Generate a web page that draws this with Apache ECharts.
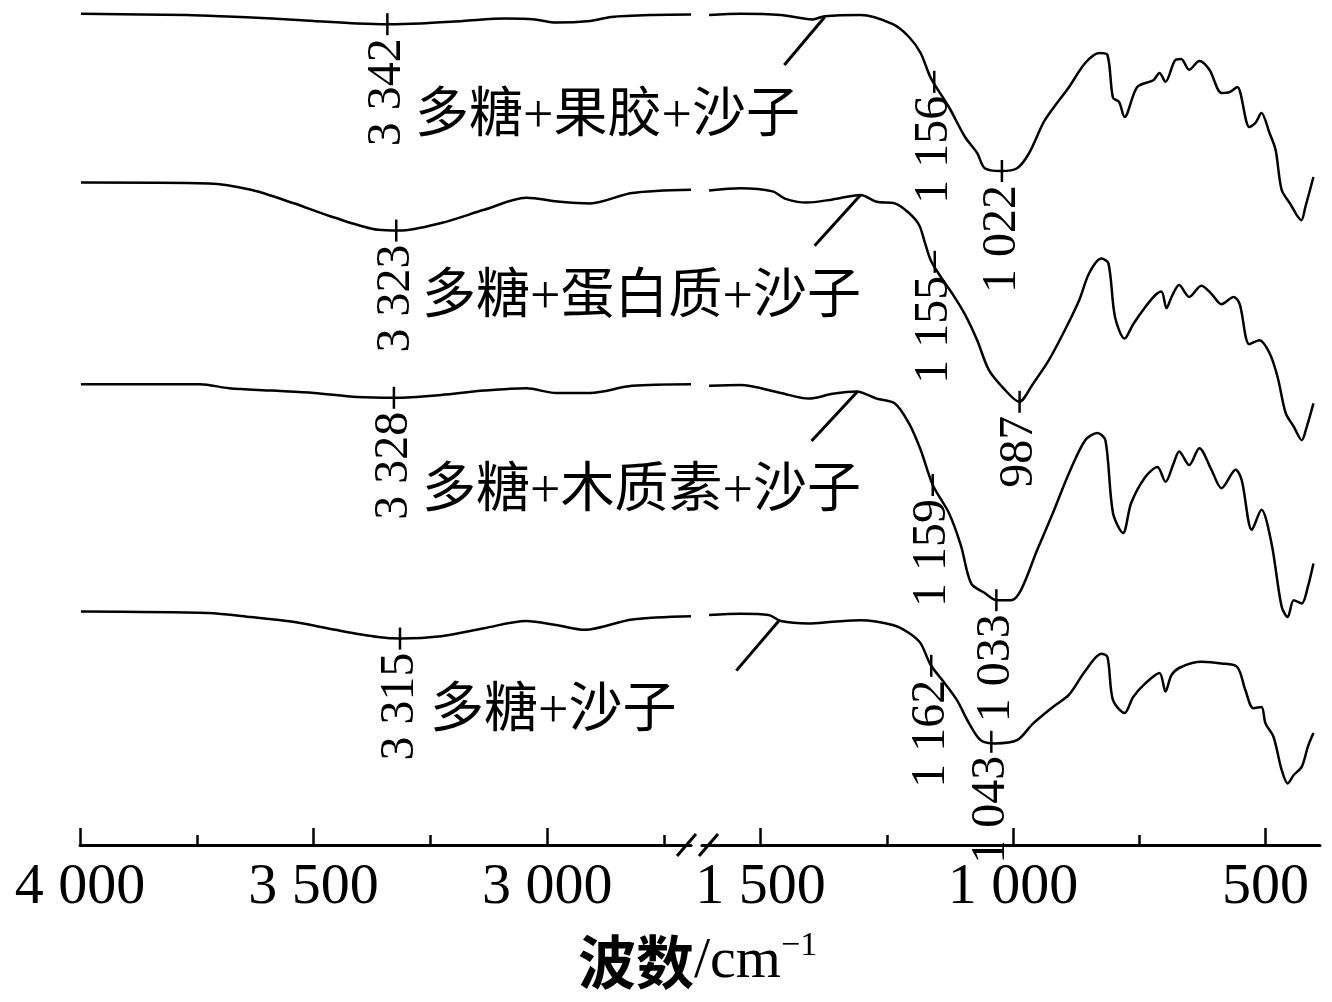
<!DOCTYPE html>
<html><head><meta charset="utf-8">
<script src="https://cdn.jsdelivr.net/npm/echarts@6/dist/echarts.min.js"></script>
<style>html,body{margin:0;padding:0;background:#fff}#c{width:1332px;height:1002px}</style>
</head><body><div id="c"></div>
<script>
// Sample names (top to bottom)
const sampleNames = ['多糖+果胶+沙子', '多糖+蛋白质+沙子', '多糖+木质素+沙子', '多糖+沙子'];

// Spectra, high-wavenumber segment [wavenumber, transmittance (a.u., offset)]
const pectinHigh = [[3998,103.9],[3771,103.75],[3698,103.6],[3589,103.3],[3499,103.0],[3407,102.7],[3340,102.6],[3272,102.7],[3180,103.0],[3090,103.3],[3026,103.2],[2981,102.8],[2908,103.0],[2863,103.5],[2773,103.75],[2692,103.8]];
const proteinHigh = [[3998,82.8],[3724,82.7],[3634,81.9],[3544,80.25],[3454,78.4],[3362,76.9],[3317,76.8],[3227,77.75],[3135,79.4],[3045,80.9],[2972,80.4],[2908,80.2],[2818,81.5],[2692,81.9]];
const ligninHigh = [[3998,57.6],[3743,57.6],[3681,57.1],[3589,56.8],[3499,56.5],[3407,56.0],[3325,55.9],[3227,56.25],[3135,56.8],[3045,57.1],[2981,56.5],[2908,56.5],[2818,57.4],[2692,57.6]];
const sandHigh = [[3998,29.2],[3726,29.0],[3634,28.5],[3544,27.9],[3454,26.9],[3362,26.0],[3313,25.8],[3227,26.1],[3135,27.1],[3045,28.0],[2981,27.5],[2919,26.9],[2818,28.2],[2692,28.6]];

// Spectra, low-wavenumber segment
const pectinLow = [[1602,103.75],[1540,103.9],[1460,103.75],[1397,103.2],[1373,103.6],[1302,103.75],[1238,102.6],[1206,101.0],[1183,99.0],[1163,95.9],[1127,92.25],[1095,88.5],[1071,86.5],[1056,84.6],[1024,84.25],[992,84.6],[968,86.5],[937,90.6],[889,94.75],[857,97.75],[829,99.0],[813,98.75],[802,93.4],[790,92.9],[779,91.0],[754,94.75],[722,95.6],[710,96.5],[698,95.4],[679,98.1],[667,98.25],[651,96.9],[631,98.0],[611,96.9],[587,94.0],[571,94.1],[556,94.75],[532,89.75],[520,90.25],[508,91.5],[492,89.0],[480,86.9],[468,81.9],[452,80.25],[429,78.1],[421,79.75],[405,83.5]];
const proteinLow = [[1602,81.8],[1540,82.1],[1476,81.7],[1452,80.8],[1409,80.3],[1357,80.7],[1302,81.25],[1270,80.4],[1234,80.2],[1206,79.0],[1186,77.5],[1175,75.4],[1163,73.1],[1143,71.0],[1119,68.8],[1095,66.3],[1071,63.1],[1048,59.4],[1016,56.9],[988,55.4],[960,57.7],[929,60.6],[897,64.4],[869,68.1],[849,71.5],[825,73.3],[811,72.7],[798,66.0],[779,63.3],[762,65.1],[738,67.25],[718,68.75],[706,69.2],[696,67.1],[686,68.5],[671,70.0],[651,68.5],[627,69.9],[607,68.9],[587,67.6],[563,68.5],[551,67.6],[532,62.6],[512,63.1],[492,61.5],[476,58.5],[460,54.0],[444,52.3],[428,50.6],[420,51.9],[405,55.2]];
const ligninLow = [[1602,57.4],[1540,57.5],[1460,56.5],[1405,55.8],[1357,56.4],[1310,56.7],[1270,55.8],[1234,55.2],[1206,52.7],[1183,49.4],[1159,45.0],[1127,41.5],[1103,37.4],[1083,32.7],[1056,31.5],[1032,30.6],[1004,30.6],[984,31.9],[952,36.9],[921,41.5],[889,46.5],[857,50.6],[833,51.5],[817,50.6],[802,41.5],[782,39.0],[766,42.75],[738,46.0],[714,47.25],[698,45.4],[682,47.7],[671,49.2],[651,47.5],[631,49.6],[607,46.9],[587,44.6],[559,46.9],[547,45.6],[527,39.4],[508,41.9],[488,37.7],[468,29.8],[456,28.5],[444,30.6],[428,30.2],[416,32.3],[405,35.2]];
const sandLow = [[1602,28.75],[1540,28.9],[1484,28.75],[1460,28.0],[1405,27.7],[1357,27.9],[1302,28.1],[1238,27.5],[1206,26.5],[1183,25.2],[1163,22.5],[1135,20.2],[1111,18.1],[1087,15.2],[1064,13.1],[1036,12.7],[992,13.1],[960,15.2],[921,17.25],[889,18.8],[857,21.75],[825,23.9],[813,23.5],[802,18.1],[779,16.5],[762,18.5],[738,20.2],[710,21.5],[698,19.2],[686,21.25],[667,22.25],[627,22.9],[587,22.7],[556,22.25],[540,19.4],[524,17.1],[508,17.25],[500,15.2],[484,13.5],[468,9.4],[456,7.7],[444,8.75],[428,9.8],[416,12.3],[405,14.0]];

// Labelled band positions [wavenumber, transmittance]
const peaksPectin = [[3342,102.6],[1156,95.4],[1022,84.25]];
const peaksProtein = [[3323,76.8],[1155,72.9],[987,55.4]];
const peaksLignin = [[3328,55.9],[1159,45.0],[1033,30.6]];
const peaksSand = [[3315,25.8],[1162,22.4],[1043,12.9]];

// Slanted baseline marks [[wn1,T1],[wn2,T2]]
const slashPectin = [[1453,97.5],[1373,103.5]];
const slashProtein = [[1393,74.9],[1302,81.25]];
const slashLignin = [[1399,50.5],[1308,56.7]];
const slashSand = [[1548,21.8],[1464,28.0]];

// Axis ticks
const majorTicksHigh = [4000, 3500, 3000];
const minorTicksHigh = [3750, 3250, 2750];
const majorTicksLow = [1500, 1000, 500];
const minorTicksLow = [1250, 750];

const highSeries = [pectinHigh, proteinHigh, ligninHigh, sandHigh];
const lowSeries = [pectinLow, proteinLow, ligninLow, sandLow];
const peakSets = [peaksPectin, peaksProtein, peaksLignin, peaksSand];
const slashSets = [slashPectin, slashProtein, slashLignin, slashSand];

function fmt(v) {
  v = Math.round(v);
  if (v >= 1000) return Math.floor(v / 1000) + ' ' + String(v % 1000).padStart(3, '0');
  return String(v);
}

const SERIF = "'Liberation Serif','Times New Roman',serif";
const CJK = "'Liberation Serif','Noto Sans CJK SC',sans-serif";

function majorAxis(grid, min, max, ticks) {
  return {
    type: 'value', gridIndex: grid, min: min, max: max, inverse: true, position: 'bottom',
    axisLine: { show: true, lineStyle: { color: '#000', width: 3 } },
    axisTick: { show: true, inside: true, length: 17, customValues: ticks, lineStyle: { color: '#000', width: 2.5 } },
    axisLabel: { show: true, customValues: ticks, formatter: fmt, color: '#000', fontSize: 58, fontFamily: SERIF, margin: 14 },
    splitLine: { show: false }
  };
}
function minorAxis(grid, min, max, ticks) {
  return {
    type: 'value', gridIndex: grid, min: min, max: max, inverse: true, position: 'bottom', offset: 0,
    axisLine: { show: false },
    axisTick: { show: true, inside: true, length: 10, customValues: ticks, lineStyle: { color: '#000', width: 2.5 } },
    axisLabel: { show: false },
    splitLine: { show: false }
  };
}

const series = [];
const lineStyle = { color: '#000', width: 2.5 };
highSeries.forEach(function (d, i) {
  series.push({ type: 'line', xAxisIndex: 0, yAxisIndex: 0, data: d, showSymbol: false, smooth: 0.3, lineStyle: lineStyle, silent: true, name: sampleNames[i] });
});
lowSeries.forEach(function (d, i) {
  series.push({ type: 'line', xAxisIndex: 2, yAxisIndex: 1, data: d, showSymbol: false, smooth: 0.3, lineStyle: lineStyle, silent: true, name: sampleNames[i] });
});
slashSets.forEach(function (d) {
  series.push({ type: 'line', xAxisIndex: 2, yAxisIndex: 1, data: d, showSymbol: false, lineStyle: { color: '#000', width: 3 }, silent: true });
});
function peakSeries(pts, xi, yi) {
  return {
    type: 'scatter', xAxisIndex: xi, yAxisIndex: yi, data: pts, symbol: 'rect', symbolSize: [2.5, 22],
    itemStyle: { color: '#000', opacity: 1 }, silent: true, z: 5,
    label: {
      show: true, formatter: function (p) { return fmt(p.data[0]); },
      position: [1.25, 25], rotate: 90, align: 'right', verticalAlign: 'middle',
      fontSize: 48, fontFamily: SERIF, color: '#000', opacity: 1
    }
  };
}
const allPeaks = [].concat.apply([], peakSets);
series.push(peakSeries(allPeaks.filter(function (p) { return p[0] > 2000; }), 0, 0));
series.push(peakSeries(allPeaks.filter(function (p) { return p[0] < 2000; }), 2, 1));

const nameY = [118, 299, 493, 713];
const nameX = [415, 422, 422, 430];
const graphics = sampleNames.map(function (n, i) {
  return { type: 'text', x: nameX[i], y: nameY[i], style: { text: n, fontSize: 54, fontFamily: CJK, fill: '#000', align: 'left', verticalAlign: 'middle' } };
});
graphics.push({ type: 'line', shape: { x1: 677, y1: 856, x2: 696, y2: 834 }, style: { stroke: '#000', lineWidth: 3 } });
graphics.push({ type: 'line', shape: { x1: 699, y1: 856, x2: 718, y2: 834 }, style: { stroke: '#000', lineWidth: 3 } });
graphics.push({
  type: 'text', x: 578, y: 962,
  style: {
    text: '{a|波数}{b|/cm}{c|−1}', align: 'left', verticalAlign: 'middle', fill: '#000',
    rich: {
      a: { fontSize: 58, fontFamily: "'Noto Sans CJK SC',sans-serif", fontWeight: 'bold', lineHeight: 66, fill: '#000' },
      b: { fontSize: 58, fontFamily: SERIF, lineHeight: 66, fill: '#000' },
      c: { fontSize: 34, fontFamily: SERIF, lineHeight: 40, verticalAlign: 'top', fill: '#000' }
    }
  }
});

const chart = echarts.init(document.getElementById('c'));
chart.setOption({
  backgroundColor: '#fff',
  animation: false,
  grid: [
    { left: 80, width: 611, top: 5, bottom: 157 },
    { left: 702, width: 618, top: 5, bottom: 157 }
  ],
  xAxis: [
    majorAxis(0, 2692, 4000, majorTicksHigh),
    minorAxis(0, 2692, 4000, minorTicksHigh),
    majorAxis(1, 392, 1616, majorTicksLow),
    minorAxis(1, 392, 1616, minorTicksLow)
  ],
  yAxis: [
    { type: 'value', gridIndex: 0, min: 0, max: 105, show: false },
    { type: 'value', gridIndex: 1, min: 0, max: 105, show: false }
  ],
  series: series,
  graphic: graphics
});
</script>
</body></html>
